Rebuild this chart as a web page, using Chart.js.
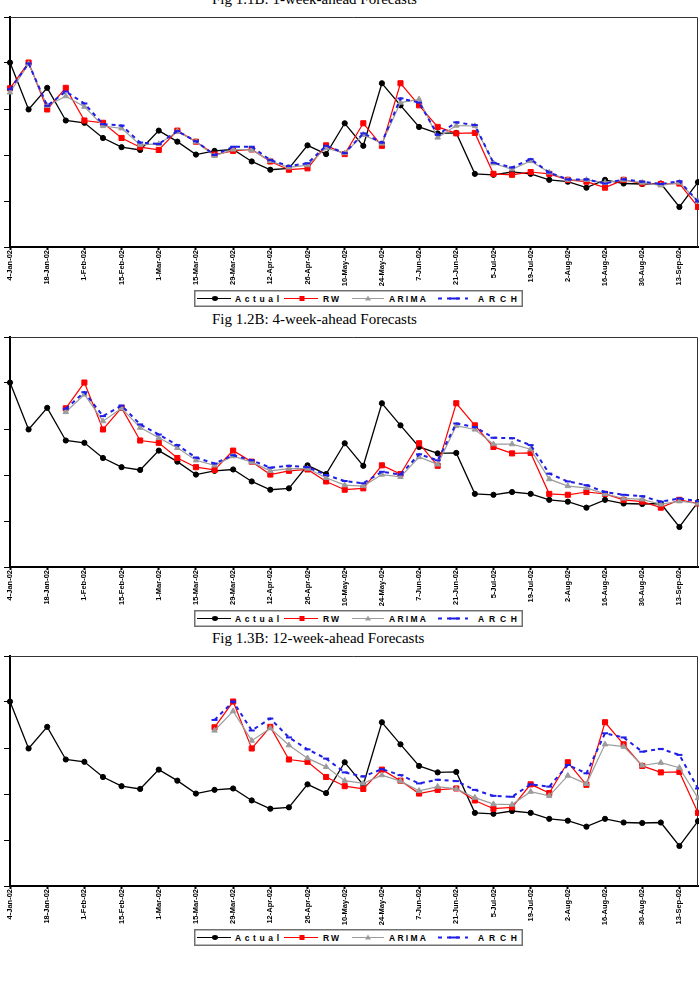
<!DOCTYPE html>
<html>
<head>
<meta charset="utf-8">
<script src="https://cdn.jsdelivr.net/npm/chart.js@4.4.1/dist/chart.umd.min.js"></script>
<style>
  body { margin: 0; background: #fff; }
  #page { position: relative; width: 699px; height: 983px; overflow: hidden; background: #fff; }
  canvas { position: absolute; left: 0; }
  .title { position: absolute; left: 212px; font-family: "Liberation Serif", "Times New Roman", serif; font-size: 15px; line-height: 15px; white-space: nowrap; color: #000; }
  .legend { position: absolute; left: 194px; }
</style>
</head>
<body>
<div id="page">
  <div class="title" style="top:-8px">Fig 1.1B: 1-week-ahead Forecasts</div>
  <canvas id="c1" width="699" height="300" style="top:7px"></canvas>
  <svg class="legend" id="lg1" width="329" height="17" style="top:290px"></svg>

  <div class="title" style="top:312px">Fig 1.2B: 4-week-ahead Forecasts</div>
  <canvas id="c2" width="699" height="300" style="top:327px"></canvas>
  <svg class="legend" id="lg2" width="329" height="17" style="top:610px"></svg>

  <div class="title" style="top:631px">Fig 1.3B: 12-week-ahead Forecasts</div>
  <canvas id="c3" width="699" height="300" style="top:646px"></canvas>
  <svg class="legend" id="lg3" width="329" height="17" style="top:929px"></svg>
</div>

<script>
// weekly dates, Fridays 2002
const weeks = ['4-Jan-02', '11-Jan-02', '18-Jan-02', '25-Jan-02', '1-Feb-02', '8-Feb-02', '15-Feb-02', '22-Feb-02',
  '1-Mar-02', '8-Mar-02', '15-Mar-02', '22-Mar-02', '29-Mar-02', '5-Apr-02', '12-Apr-02', '19-Apr-02', '26-Apr-02',
  '3-May-02', '10-May-02', '17-May-02', '24-May-02', '31-May-02', '7-Jun-02', '14-Jun-02', '21-Jun-02', '28-Jun-02',
  '5-Jul-02', '12-Jul-02', '19-Jul-02', '26-Jul-02', '2-Aug-02', '9-Aug-02', '16-Aug-02', '23-Aug-02', '30-Aug-02',
  '6-Sep-02', '13-Sep-02', '20-Sep-02'];

const actual = [4.01, 2.99, 3.46, 2.75, 2.70, 2.37, 2.17, 2.11, 2.53, 2.29, 2.01, 2.09, 2.12, 1.86, 1.68, 1.71, 2.21, 2.02,
  2.69, 2.20, 3.56, 3.08, 2.61, 2.47, 2.48, 1.59, 1.57, 1.63, 1.59, 1.46, 1.42, 1.29, 1.46, 1.38, 1.37, 1.38, 0.87, 1.41];

// 1-week-ahead
const rw1 = [3.45, 4.01, 2.99, 3.46, 2.75, 2.70, 2.37, 2.17, 2.11, 2.53, 2.29, 2.01, 2.09, 2.12, 1.86, 1.68, 1.71, 2.21,
  2.02, 2.69, 2.20, 3.56, 3.08, 2.61, 2.47, 2.48, 1.59, 1.57, 1.63, 1.59, 1.46, 1.42, 1.29, 1.46, 1.38, 1.37, 1.38, 0.87];
const arima1 = [3.36, 3.98, 3.07, 3.28, 3.05, 2.63, 2.58, 2.22, 2.24, 2.51, 2.29, 1.98, 2.12, 2.11, 1.87, 1.73, 1.78, 2.15,
  2.04, 2.44, 2.25, 3.14, 3.21, 2.38, 2.64, 2.63, 1.82, 1.69, 1.87, 1.62, 1.46, 1.46, 1.40, 1.46, 1.40, 1.34, 1.40, 0.99];
const arch1 = [3.43, 3.99, 3.07, 3.38, 3.12, 2.67, 2.64, 2.27, 2.24, 2.52, 2.30, 2.00, 2.18, 2.18, 1.89, 1.76, 1.82, 2.20,
  2.04, 2.47, 2.27, 3.23, 3.14, 2.44, 2.71, 2.65, 1.83, 1.73, 1.91, 1.62, 1.47, 1.47, 1.38, 1.47, 1.42, 1.37, 1.43, 0.99];

// 4-week-ahead
const rw4 = [null, null, null, 3.45, 4.01, 2.99, 3.46, 2.75, 2.70, 2.37, 2.17, 2.11, 2.53, 2.29, 2.01, 2.09, 2.12, 1.86,
  1.68, 1.71, 2.21, 2.02, 2.69, 2.20, 3.56, 3.08, 2.61, 2.47, 2.48, 1.59, 1.57, 1.63, 1.59, 1.46, 1.42, 1.29, 1.46, 1.38];
const arima4 = [null, null, null, 3.37, 3.75, 3.17, 3.45, 3.03, 2.81, 2.59, 2.32, 2.21, 2.41, 2.28, 2.09, 2.14, 2.14, 1.94,
  1.78, 1.76, 2.01, 1.96, 2.39, 2.23, 3.07, 2.99, 2.67, 2.67, 2.56, 1.91, 1.76, 1.72, 1.59, 1.49, 1.47, 1.36, 1.43, 1.38];
const arch4 = [null, null, null, 3.44, 3.80, 3.28, 3.51, 3.10, 2.88, 2.65, 2.38, 2.25, 2.43, 2.32, 2.16, 2.20, 2.17, 2.00,
  1.87, 1.82, 2.07, 2.01, 2.45, 2.32, 3.12, 3.04, 2.81, 2.80, 2.65, 2.03, 1.86, 1.78, 1.63, 1.57, 1.54, 1.42, 1.49, 1.43];

// 12-week-ahead
const rw12 = [null, null, null, null, null, null, null, null, null, null, null, 3.45, 4.01, 2.99, 3.46, 2.75, 2.70, 2.37,
  2.17, 2.11, 2.53, 2.29, 2.01, 2.09, 2.12, 1.86, 1.68, 1.71, 2.21, 2.02, 2.69, 2.20, 3.56, 3.08, 2.61, 2.47, 2.48, 1.59];
const arima12 = [null, null, null, null, null, null, null, null, null, null, null, 3.38, 3.80, 3.16, 3.43, 3.06, 2.78, 2.59,
  2.29, 2.23, 2.41, 2.28, 2.07, 2.16, 2.11, 1.92, 1.78, 1.77, 2.05, 1.96, 2.40, 2.22, 3.08, 3.03, 2.62, 2.68, 2.57, 1.91];
const arch12 = [null, null, null, null, null, null, null, null, null, null, null, 3.61, 4.01, 3.38, 3.64, 3.23, 2.97, 2.77,
  2.47, 2.38, 2.54, 2.41, 2.23, 2.31, 2.28, 2.09, 1.96, 1.94, 2.21, 2.16, 2.63, 2.45, 3.32, 3.23, 2.92, 2.98, 2.85, 2.12];

const BLUE = '#1f1fe6';
const RED = '#ff0000';
const GREY = '#9c9c9c';

// top and right edges of the plot box
const frame = {
  id: 'frame',
  beforeDatasetsDraw(chart) {
    const { ctx, chartArea: a } = chart;
    ctx.save();
    ctx.strokeStyle = '#333';
    ctx.lineWidth = 1;
    ctx.beginPath();
    ctx.moveTo(a.left, a.top + 0.5);
    ctx.lineTo(a.right - 0.5, a.top + 0.5);
    ctx.lineTo(a.right - 0.5, a.bottom);
    ctx.stroke();
    ctx.restore();
  }
};

function makeChart(id, rw, arima, arch) {
  return new Chart(document.getElementById(id), {
    type: 'line',
    data: {
      labels: weeks,
      datasets: [
        { label: 'Actual', data: actual, order: 4, borderColor: '#000', borderWidth: 1.3,
          pointStyle: 'circle', pointRadius: 2.6, pointBackgroundColor: '#000', pointBorderColor: '#000', pointBorderWidth: 1 },
        { label: 'RW', data: rw, order: 3, borderColor: RED, borderWidth: 1.2,
          pointStyle: 'rect', pointRadius: 3.6, pointBackgroundColor: RED, pointBorderColor: RED, pointBorderWidth: 1 },
        { label: 'ARIMA', data: arima, order: 2, borderColor: GREY, borderWidth: 1.2,
          pointStyle: 'triangle', pointRadius: 3.2, pointBackgroundColor: GREY, pointBorderColor: GREY, pointBorderWidth: 1 },
        { label: 'ARCH', data: arch, order: 1, borderColor: BLUE, borderWidth: 2, borderDash: [4, 4],
          pointStyle: 'line', pointRadius: 3, pointBorderColor: BLUE, pointBorderWidth: 2 }
      ]
    },
    options: {
      responsive: false,
      animation: false,
      clip: false,
      // plot box: 10px from canvas top, 230px high; the rest is room for the date labels
      layout: { padding: { top: 10, right: 1, left: 0, bottom: 19 }, autoPadding: false },
      plugins: { legend: { display: false }, tooltip: { enabled: false } },
      elements: { line: { tension: 0 } },
      scales: {
        x: {
          offset: false,
          grid: {
            drawOnChartArea: false, tickLength: 3, tickWidth: 2,
            tickColor: c => (c.index % 2 ? 'rgba(0,0,0,0)' : '#000')
          },
          border: { width: 2, color: '#000' },
          ticks: {
            autoSkip: false, maxRotation: 90, minRotation: 90, padding: 0, color: '#000',
            font: { family: '"Liberation Sans", Arial, sans-serif', size: 7.5, weight: 'bold' },
            callback: (v, i) => (i % 2 ? '' : weeks[i])
          },
          afterFit: s => { s.height = 41; s.paddingLeft = 0; s.paddingRight = 0; }
        },
        y: {
          min: 0, max: 5,
          ticks: { display: false, stepSize: 1 },
          grid: { drawOnChartArea: false, tickLength: 6, tickWidth: 1, tickColor: '#000' },
          border: { width: 2, color: '#000' },
          afterFit: s => { s.width = 10; }
        }
      }
    },
    plugins: [frame]
  });
}

makeChart('c1', rw1, arima1, arch1);
makeChart('c2', rw4, arima4, arch4);
makeChart('c3', rw12, arima12, arch12);

// legend box under each chart
function drawLegend(id) {
  const f = 'font-family="Liberation Sans, Arial, sans-serif" font-size="8.5" font-weight="bold" fill="#000"';
  document.getElementById(id).innerHTML =
    '<rect x="0.75" y="0.75" width="327.5" height="15.5" fill="#fff" stroke="#707070" stroke-width="1.5"/>' +
    '<line x1="3" y1="8.5" x2="37" y2="8.5" stroke="#000" stroke-width="1"/>' +
    '<ellipse cx="21" cy="8.5" rx="3" ry="2.4" fill="#000"/>' +
    '<text x="41" y="11.7" ' + f + ' textLength="44" lengthAdjust="spacing">Actual</text>' +
    '<line x1="90" y1="8.5" x2="124" y2="8.5" stroke="' + RED + '" stroke-width="1"/>' +
    '<rect x="105.5" y="6" width="5" height="5" fill="' + RED + '"/>' +
    '<text x="129" y="11.7" ' + f + ' textLength="16" lengthAdjust="spacing">RW</text>' +
    '<line x1="158" y1="8.5" x2="190" y2="8.5" stroke="' + GREY + '" stroke-width="1"/>' +
    '<polygon points="171,10.5 177,10.5 174,5.5" fill="' + GREY + '"/>' +
    '<text x="195" y="11.7" ' + f + ' textLength="37" lengthAdjust="spacing">ARIMA</text>' +
    '<line x1="244" y1="8.5" x2="274" y2="8.5" stroke="' + BLUE + '" stroke-width="2" stroke-dasharray="4,5"/>' +
    '<line x1="255" y1="8.5" x2="265" y2="8.5" stroke="' + BLUE + '" stroke-width="2"/>' +
    '<text x="284" y="11.7" ' + f + ' textLength="39" lengthAdjust="spacing">ARCH</text>';
}
drawLegend('lg1');
drawLegend('lg2');
drawLegend('lg3');
</script>
</body>
</html>
